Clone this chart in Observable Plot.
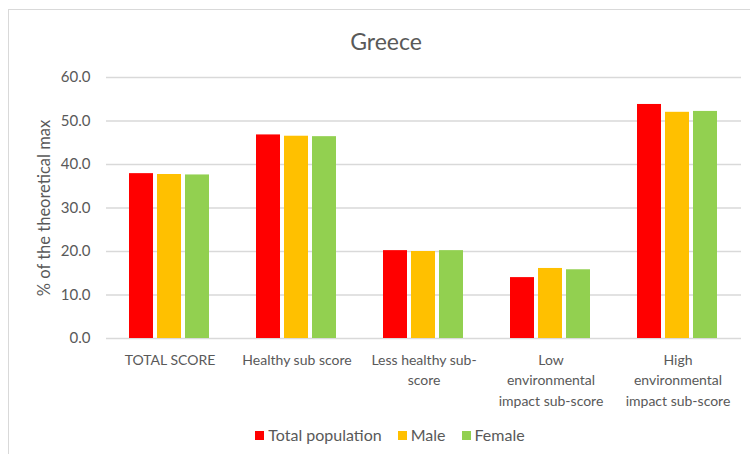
<!DOCTYPE html>
<html>
<head>
<meta charset="utf-8">
<script src="https://cdn.jsdelivr.net/npm/d3@7"></script>
<script src="https://cdn.jsdelivr.net/npm/@observablehq/plot@0.6"></script>
<style>
  body { margin: 0; background: #fff; }
  #wrap { position: relative; width: 750px; height: 454px; overflow: hidden; font-family: Lato, "Open Sans", sans-serif; color: #595959; }
  #frame { position: absolute; left: 8px; top: 9px; width: 800px; height: 500px; border: 1px solid #d9d9d9; box-sizing: border-box; }
  #title { position: absolute; left: 8px; width: 756px; top: 27px; text-align: center; font-size: 23px; }
  #chart { position: absolute; left: 0; top: 60px; }
  #legend { position: absolute; left: 8px; width: 764px; top: 425px; text-align: center; font-size: 16px; }
  #legend span.item { display: inline-block; margin: 0 8px; }
  #legend span.sw { display: inline-block; width: 9px; height: 9px; margin-right: 4px; vertical-align: 1px; }
  #chart g[aria-label="y-axis label"] text { font-size: 16.5px; }
</style>
</head>
<body>
<div id="wrap">
  <div id="frame"></div>
  <div id="title">Greece</div>
  <div id="chart"></div>
  <div id="legend"></div>
</div>
<script>
const categories = ["TOTAL SCORE", "Healthy sub score", "Less healthy sub-score", "Low environmental impact sub-score", "High environmental impact sub-score"];
const categoryLabels = ["TOTAL SCORE", "Healthy sub score", "Less healthy sub-\nscore", "Low\nenvironmental\nimpact sub-score", "High\nenvironmental\nimpact sub-score"];
const series = ["Total population", "Male", "Female"];
const colors = ["#ff0000", "#ffc000", "#92d050"];
const totalPopulation = [37.9, 46.8, 20.2, 14.0, 53.8];
const male = [37.7, 46.5, 20.0, 16.1, 52.0];
const female = [37.6, 46.4, 20.2, 15.8, 52.2];
const yTicks = [0, 10, 20, 30, 40, 50, 60];

const seriesValues = [totalPopulation, male, female];
const data = [];
categories.forEach((c, i) => {
  series.forEach((s, j) => data.push({category: c, series: s, value: seriesValues[j][i]}));
});
const labelOf = new Map(categories.map((c, i) => [c, categoryLabels[i]]));

const plot = Plot.plot({
  width: 750,
  height: 360,
  marginLeft: 106,
  marginRight: 9,
  marginTop: 17,
  marginBottom: 82,
  style: {fontFamily: "Lato, 'Open Sans', sans-serif", fontSize: "14px", color: "#595959", background: "transparent"},
  fx: {domain: categories, padding: 0, axis: null},
  x: {domain: series, paddingInner: 0.14, paddingOuter: 0.82, axis: null},
  y: {domain: [0, 60], axis: null},
  color: {domain: series, range: colors},
  marks: [
    Plot.ruleY(yTicks, {stroke: "#d9d9d9", strokeWidth: 1.3}),
    Plot.barY(data, {fx: "category", x: "series", y: "value", fill: "series", inset: 0}),
    Plot.axisY({ticks: yTicks, tickFormat: d => d.toFixed(1), tickSize: 0, tickPadding: 16, label: "% of the theoretical max", labelAnchor: "center", labelArrow: "none", labelOffset: 68, fontSize: 15}),
    Plot.axisFx({anchor: "bottom", tickSize: 0, tickPadding: 12, label: null, tickFormat: d => labelOf.get(d), lineHeight: 1.45, fontSize: 14})
  ]
});
document.getElementById("chart").appendChild(plot);

const legend = document.getElementById("legend");
series.forEach((s, j) => {
  const item = document.createElement("span");
  item.className = "item";
  const sw = document.createElement("span");
  sw.className = "sw";
  sw.style.background = colors[j];
  item.appendChild(sw);
  item.appendChild(document.createTextNode(s));
  legend.appendChild(item);
});
</script>
</body>
</html>
